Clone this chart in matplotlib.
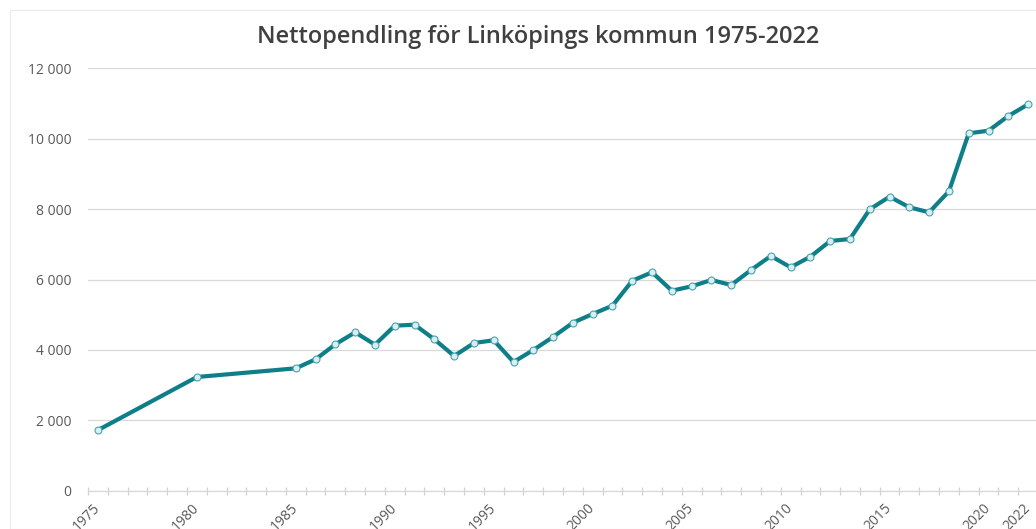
import matplotlib
matplotlib.use("Agg")
import matplotlib.pyplot as plt
from matplotlib.patches import Rectangle

years = list(range(1975, 2023))
data_years = [1975, 1980] + list(range(1985, 2023))
values = [1720, 3230,
          3477, 3733, 4159, 4500, 4148, 4688, 4716, 4301, 3827, 4196,
          4273, 3656, 3997, 4370, 4773, 5020, 5256, 5966, 6205, 5682,
          5807, 5986, 5844, 6270, 6668, 6347, 6648, 7094, 7151, 7994,
          8352, 8051, 7909, 8506, 10153, 10227, 10645, 10977]
label_years = [1975, 1980, 1985, 1990, 1995, 2000, 2005, 2010, 2015, 2020, 2022]
y_ticks = [0, 2000, 4000, 6000, 8000, 10000, 12000]
title = "Nettopendling för Linköpings kommun 1975-2022"

plt.rcParams['font.family'] = ['Open Sans', 'DejaVu Sans']

fig = plt.figure(figsize=(10.36, 5.29), dpi=100)
fig.patches.append(Rectangle((10/1036, 0), 1.2, 1 - 10/529, transform=fig.transFigure,
                             fill=False, edgecolor='#ececec', linewidth=0.8))
ax = fig.add_axes([88/1036, 1 - 490.7/529, 950/1036, 422.4/529])

xpos = [years.index(y) for y in data_years]
ax.plot(xpos, values, color='#0E7F89', linewidth=3.0, marker='o', markersize=5,
        markerfacecolor='#d8eef1', markeredgecolor='#4aa3ab', markeredgewidth=0.8,
        solid_joinstyle='round', zorder=3)

ax.set_xlim(-0.5, len(years) - 0.5)
ax.set_ylim(0, 12000)
ax.set_yticks(y_ticks)
ax.set_yticklabels([f"{v:,}".replace(",", " ") for v in y_ticks])
ax.grid(axis='y', color='#d9d9d9', linewidth=0.9)
ax.set_axisbelow(True)

for s in ['top', 'right', 'left']:
    ax.spines[s].set_visible(False)
ax.spines['bottom'].set_color('#d9d9d9')
ax.spines['bottom'].set_linewidth(0.9)

ax.set_xticks([years.index(y) for y in label_years])
ax.set_xticklabels([str(y) for y in label_years], rotation=45, ha='right',
                   va='center', rotation_mode='anchor')
ax.set_xticks([i - 0.5 for i in range(len(years) + 1)], minor=True)
ax.tick_params(axis='x', which='major', length=0, pad=11, labelsize=10, labelcolor='#595959')
ax.tick_params(axis='x', which='minor', length=6, direction='inout', color='#d0d0d0', width=0.9)
ax.tick_params(axis='y', length=0, pad=12, labelsize=10, labelcolor='#595959')

fig.text(538/1036, 1 - 37/529, title, ha='center', va='center', fontsize=17,
         fontweight='semibold', color='#404040')

fig.savefig("out.png", dpi=100)
